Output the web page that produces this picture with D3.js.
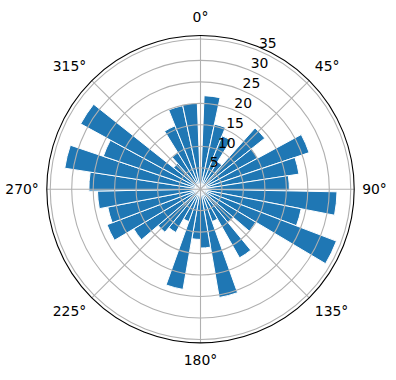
<!DOCTYPE html>
<html>
<head>
<meta charset="utf-8">
<script src="https://cdn.jsdelivr.net/npm/d3@7/dist/d3.min.js"></script>
<style>
    body { margin: 0; background: #fff; }
    text { font-family: "DejaVu Sans", sans-serif; font-size: 13.9px; fill: #000; }
</style>
</head>
<body>
<div id="chart"></div>
<script>
// bin start angles in degrees (clockwise from north)
const binStarts = [2.2, 12.1, 22.0, 31.8, 41.7, 51.6, 61.5, 71.4, 81.2, 91.1, 101.0, 110.9,
    120.8, 130.6, 140.5, 150.4, 160.3, 170.2, 180.0, 189.9, 199.8, 209.7, 219.6, 229.4,
    239.3, 249.2, 259.1, 269.0, 278.8, 288.7, 298.6, 308.5, 318.4, 328.2, 338.1, 348.0];
const binWidth = 9.88;
const counts = [21.8, 15.5, 13.4, 7.5, 19.1, 15.2, 26.7, 23.2, 20.7, 31.8, 23.9, 33.9,
    15.0, 10.0, 18.4, 8.0, 25.6, 13.7, 11.7, 23.7, 8.0, 11.6, 13.0, 18.1,
    23.3, 22.0, 24.0, 26.0, 32.0, 23.9, 31.8, 8.0, 10.0, 15.9, 19.9, 20.1];
const rTicks = [5, 10, 15, 20, 25, 30, 35];
const thetaTicks = [0, 45, 90, 135, 180, 225, 270, 315];
const thetaLabels = ['0°', '45°', '90°', '135°', '180°', '225°', '270°', '315°'];
const rMax = 35.8;

class PolarBar {
    constructor(config) {
        this.config = {
            parentElement: config.parentElement,
            width: config.width || 396,
            height: config.height || 380,
            cx: config.cx || 200.5,
            cy: config.cy || 189.2,
            radius: config.radius || 153.7
        };
        this.initVis();
    }

    initVis() {
        let vis = this;
        const c = vis.config;

        vis.svg = d3.select(c.parentElement)
            .append('svg')
            .attr('width', c.width)
            .attr('height', c.height);

        vis.chart = vis.svg.append('g')
            .attr('transform', `translate(${c.cx},${c.cy})`);

        vis.rScale = d3.scaleLinear()
            .domain([0, rMax])
            .range([0, c.radius]);

        vis.aScale = d3.scaleLinear()
            .domain([0, 360])
            .range([0, 2 * Math.PI]);

        vis.arc = d3.arc()
            .innerRadius(0)
            .outerRadius(d => vis.rScale(d.value))
            .startAngle(d => vis.aScale(d.start))
            .endAngle(d => vis.aScale(d.start + binWidth));

        vis.drawBars();
        vis.drawGrid();
        vis.drawLabels();
    }

    drawBars() {
        let vis = this;
        const data = binStarts.map((s, i) => ({ start: s, value: counts[i] }));

        vis.chart.selectAll('.bar')
            .data(data)
            .join('path')
            .attr('class', 'bar')
            .attr('d', vis.arc)
            .attr('fill', '#1f77b4')
            .attr('stroke', '#fff')
            .attr('stroke-width', 1)
            .attr('stroke-linejoin', 'miter');
    }

    drawGrid() {
        let vis = this;
        const R = vis.config.radius;

        vis.chart.selectAll('.ring')
            .data(rTicks)
            .join('circle')
            .attr('class', 'ring')
            .attr('r', d => vis.rScale(d))
            .attr('fill', 'none')
            .attr('stroke', '#b0b0b0')
            .attr('stroke-width', 1.1);

        vis.chart.selectAll('.spoke')
            .data(thetaTicks)
            .join('line')
            .attr('class', 'spoke')
            .attr('x1', 0).attr('y1', 0)
            .attr('x2', d => R * Math.sin(vis.aScale(d)))
            .attr('y2', d => -R * Math.cos(vis.aScale(d)))
            .attr('stroke', '#b0b0b0')
            .attr('stroke-width', 1.1);

        vis.chart.append('circle')
            .attr('r', R)
            .attr('fill', 'none')
            .attr('stroke', '#000')
            .attr('stroke-width', 1.1);
    }

    drawLabels() {
        let vis = this;
        const R = vis.config.radius;
        const lab = 22.5 * Math.PI / 180;

        // radial tick labels along 22.5 deg
        vis.chart.selectAll('.rlabel')
            .data(rTicks)
            .join('text')
            .attr('class', 'rlabel')
            .attr('x', d => vis.rScale(d) * Math.sin(lab) + 1)
            .attr('y', d => -vis.rScale(d) * Math.cos(lab) - 2)
            .text(d => d);

        // angular tick labels
        vis.chart.selectAll('.tlabel')
            .data(thetaTicks)
            .join('text')
            .attr('class', 'tlabel')
            .attr('text-anchor', d => {
                const s = Math.sin(vis.aScale(d));
                return s > 0.1 ? 'start' : (s < -0.1 ? 'end' : 'middle');
            })
            .attr('x', d => (R + 8) * Math.sin(vis.aScale(d)))
            .attr('y', d => {
                const co = Math.cos(vis.aScale(d));
                if (co > 0.1) return -(R + 14) * co;
                if (co < -0.1) return -(R + 12) * co + 10;
                return 5;
            })
            .text((d, i) => thetaLabels[i]);
    }
}

new PolarBar({ parentElement: '#chart' });
</script>
</body>
</html>
